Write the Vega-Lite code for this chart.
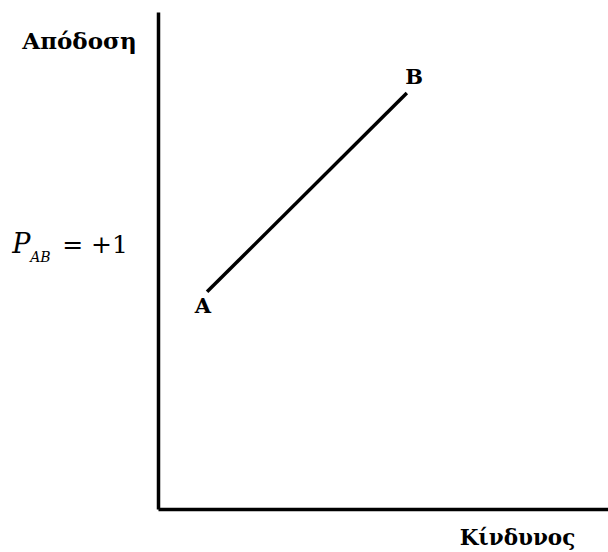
{
  "$schema": "https://vega.github.io/schema/vega-lite/v6.json",
  "width": 450,
  "height": 497,
  "autosize": "none",
  "padding": {"left": 158, "top": 12, "right": 0, "bottom": 43},
  "background": "white",
  "config": {"view": {"stroke": null}},
  "datasets": {
    "line": [{"point": "A", "risk": 10.9, "ret": 43.7}, {"point": "B", "risk": 55.3, "ret": 83.7}],
    "labels": [{"label": "A", "risk": 10.0, "ret": 40.6}, {"label": "B", "risk": 56.9, "ret": 86.7}],
    "pvar": [{"t": "P", "risk": -32.4, "ret": 51.5}],
    "psub": [{"t": "AB", "risk": -28.4, "ret": 49.6}],
    "peq": [{"t": "= +1", "risk": -21.3, "ret": 51.5}]
  },
  "encoding": {
    "x": {
      "field": "risk", "type": "quantitative",
      "scale": {"domain": [0, 100], "nice": false, "zero": false},
      "axis": {
        "title": "Κίνδυνος", "grid": false, "ticks": false, "labels": false,
        "domainColor": "black", "domainWidth": 3.5,
        "titleFont": "DejaVu Serif", "titleFontWeight": "bold", "titleFontSize": 21.5, "titleColor": "black",
        "titleX": 359, "titleY": 29, "titleAlign": "center", "titleBaseline": "middle"
      }
    },
    "y": {
      "field": "ret", "type": "quantitative",
      "scale": {"domain": [0, 100], "nice": false, "zero": false},
      "axis": {
        "title": "Απόδοση", "grid": false, "ticks": false, "labels": false,
        "domainColor": "black", "domainWidth": 3.5,
        "titleFont": "DejaVu Serif", "titleFontWeight": "bold", "titleFontSize": 23, "titleColor": "black",
        "titleAngle": 0, "titleX": -79, "titleY": 29, "titleAlign": "center", "titleBaseline": "middle"
      }
    }
  },
  "layer": [
    {"data": {"name": "line"}, "mark": {"type": "line", "color": "black", "strokeWidth": 3.5}},
    {"data": {"name": "labels"}, "mark": {"type": "text", "font": "DejaVu Serif", "fontWeight": "bold", "fontSize": 21, "color": "black", "align": "center", "baseline": "middle"}, "encoding": {"text": {"field": "label"}}},
    {"data": {"name": "pvar"}, "mark": {"type": "text", "font": "DejaVu Serif", "fontStyle": "italic", "fontSize": 27, "color": "black", "align": "left", "baseline": "alphabetic"}, "encoding": {"text": {"field": "t"}}},
    {"data": {"name": "psub"}, "mark": {"type": "text", "font": "DejaVu Serif", "fontStyle": "italic", "fontSize": 14, "color": "black", "align": "left", "baseline": "alphabetic"}, "encoding": {"text": {"field": "t"}}},
    {"data": {"name": "peq"}, "mark": {"type": "text", "font": "DejaVu Serif", "fontSize": 25, "color": "black", "align": "left", "baseline": "alphabetic"}, "encoding": {"text": {"field": "t"}}}
  ]
}
